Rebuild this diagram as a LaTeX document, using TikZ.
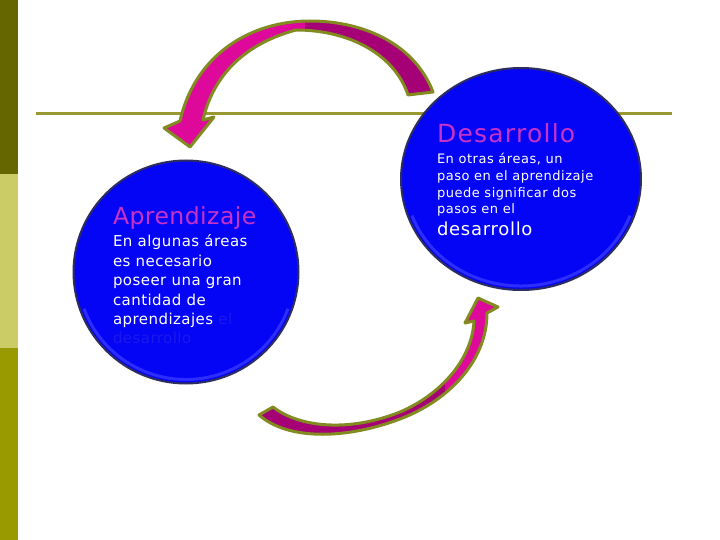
\documentclass[tikz,border=0pt]{standalone}
\usepackage{fontspec}
\setmainfont{DejaVu Sans}
\newfontfamily\titleA[LetterSpace=2]{DejaVu Sans}
\newfontfamily\titleB[LetterSpace=5]{DejaVu Sans}
\newfontfamily\bodyA[LetterSpace=3]{DejaVu Sans}
\newfontfamily\bodyB[LetterSpace=4]{DejaVu Sans}
\newfontfamily\bigword[LetterSpace=4]{DejaVu Sans}
\usetikzlibrary{shapes.geometric}
\definecolor{barA}{RGB}{102,102,0}
\definecolor{barB}{RGB}{204,204,102}
\definecolor{barC}{RGB}{153,153,0}
\definecolor{rule}{RGB}{153,153,51}
\definecolor{discblue}{RGB}{5,5,245}
\definecolor{discedge}{RGB}{45,45,95}
\definecolor{hilite}{RGB}{45,45,255}
\definecolor{hidden}{RGB}{25,25,235}
\definecolor{titlecol}{RGB}{200,50,200}
\definecolor{magB}{RGB}{222,8,155}
\definecolor{magD}{RGB}{165,0,118}
\definecolor{olive}{RGB}{130,138,32}
\tikzset{
  disc/.style={ellipse, inner sep=0pt, fill=discblue, draw=discedge, line width=2pt},
  txt/.style={anchor=base west, inner sep=0pt, outer sep=0pt, text=white},
  ttl/.style={txt, text=titlecol},
  arrowline/.style={draw=olive, line width=3pt, line join=round}
}
\begin{document}
\begin{tikzpicture}[x=1pt,y=-1pt]
\useasboundingbox (0,0) rectangle (720,540);
\fill[white] (0,0) rectangle (720,540);
% side bars
\fill[barA] (0,0) rectangle (18,174);
\fill[barB] (0,174) rectangle (18,348);
\fill[barC] (0,348) rectangle (18,540);
% horizontal rule
\draw[rule, line width=3pt] (36,114) -- (672,114);
% discs
\node[disc, minimum width=225pt, minimum height=223pt] (apr) at (186,272) {};
\node[disc, minimum width=240pt, minimum height=222pt] (des) at (521,179) {};
% bevel highlights along the lower rim
\draw[hilite, line width=3pt] (apr.center) ++(160:108.5 and 107.5) arc[start angle=160, end angle=20, x radius=108.5, y radius=107.5];
\draw[hilite, line width=3pt] (des.center) ++(160:116 and 107) arc[start angle=160, end angle=20, x radius=116, y radius=107];
% left disc text
\node[ttl] (aprT) at (113,225) {\titleA\fontsize{23.5}{26}\selectfont Aprendizaje};
\node[txt] (a1) at (113,247) {\bodyA\fontsize{15}{17}\selectfont En algunas áreas};
\node[txt] (a2) at (113,266) {\bodyA\fontsize{15}{17}\selectfont es necesario};
\node[txt] (a3) at (113,285) {\bodyA\fontsize{15}{17}\selectfont poseer una gran};
\node[txt] (a4) at (113,305) {\bodyA\fontsize{15}{17}\selectfont cantidad de};
\node[txt] (a5) at (113,324) {\bodyA\fontsize{15}{17}\selectfont aprendizajes \textcolor{hidden}{el}};
\node[txt, text=hidden] (a6) at (113,343) {\bodyA\fontsize{15}{17}\selectfont desarrollo};
% right disc text
\node[ttl] (desT) at (437,143) {\titleB\fontsize{25}{28}\selectfont Desarrollo};
\node[txt] (d1) at (437,164) {\bodyB\fontsize{13}{15}\selectfont En otras áreas, un};
\node[txt] (d2) at (437,181) {\bodyB\fontsize{13}{15}\selectfont paso en el aprendizaje};
\node[txt] (d3) at (437,198) {\bodyB\fontsize{13}{15}\selectfont puede significar dos};
\node[txt] (d4) at (437,214) {\bodyB\fontsize{13}{15}\selectfont pasos en el};
\node[txt] (d5) at (437,236) {\bigword\fontsize{18}{21}\selectfont desarrollo};
% top curved arrow
\def\toparrow{(433,92) .. controls (415,45) and (365,21) .. (310,21)
  .. controls (250,21) and (195,55) .. (180,121) -- (164,128) -- (190,147)
  -- (214,117) -- (203,120) .. controls (212,80) and (240,45) .. (296,30)
  .. controls (350,30) and (395,55) .. (408,95) -- cycle}
\fill[magB] \toparrow;
\begin{scope}
  \clip \toparrow;
  \fill[magD] (305,0) rectangle (450,120);
\end{scope}
\draw[arrowline] \toparrow;
% bottom curved arrow
\def\botarrow{(259,415) -- (273,407) .. controls (300,428) and (350,432) .. (400,412)
  .. controls (440,395) and (472,360) .. (474,321) -- (465,323) -- (478,298)
  -- (498,307) -- (487,313) .. controls (487,360) and (450,400) .. (400,419)
  .. controls (350,438) and (290,442) .. (259,415) -- cycle}
\fill[magB] \botarrow;
\begin{scope}
  \clip \botarrow;
  \fill[magD] (240,380) rectangle (445,460);
\end{scope}
\draw[arrowline] \botarrow;
\end{tikzpicture}
\end{document}
